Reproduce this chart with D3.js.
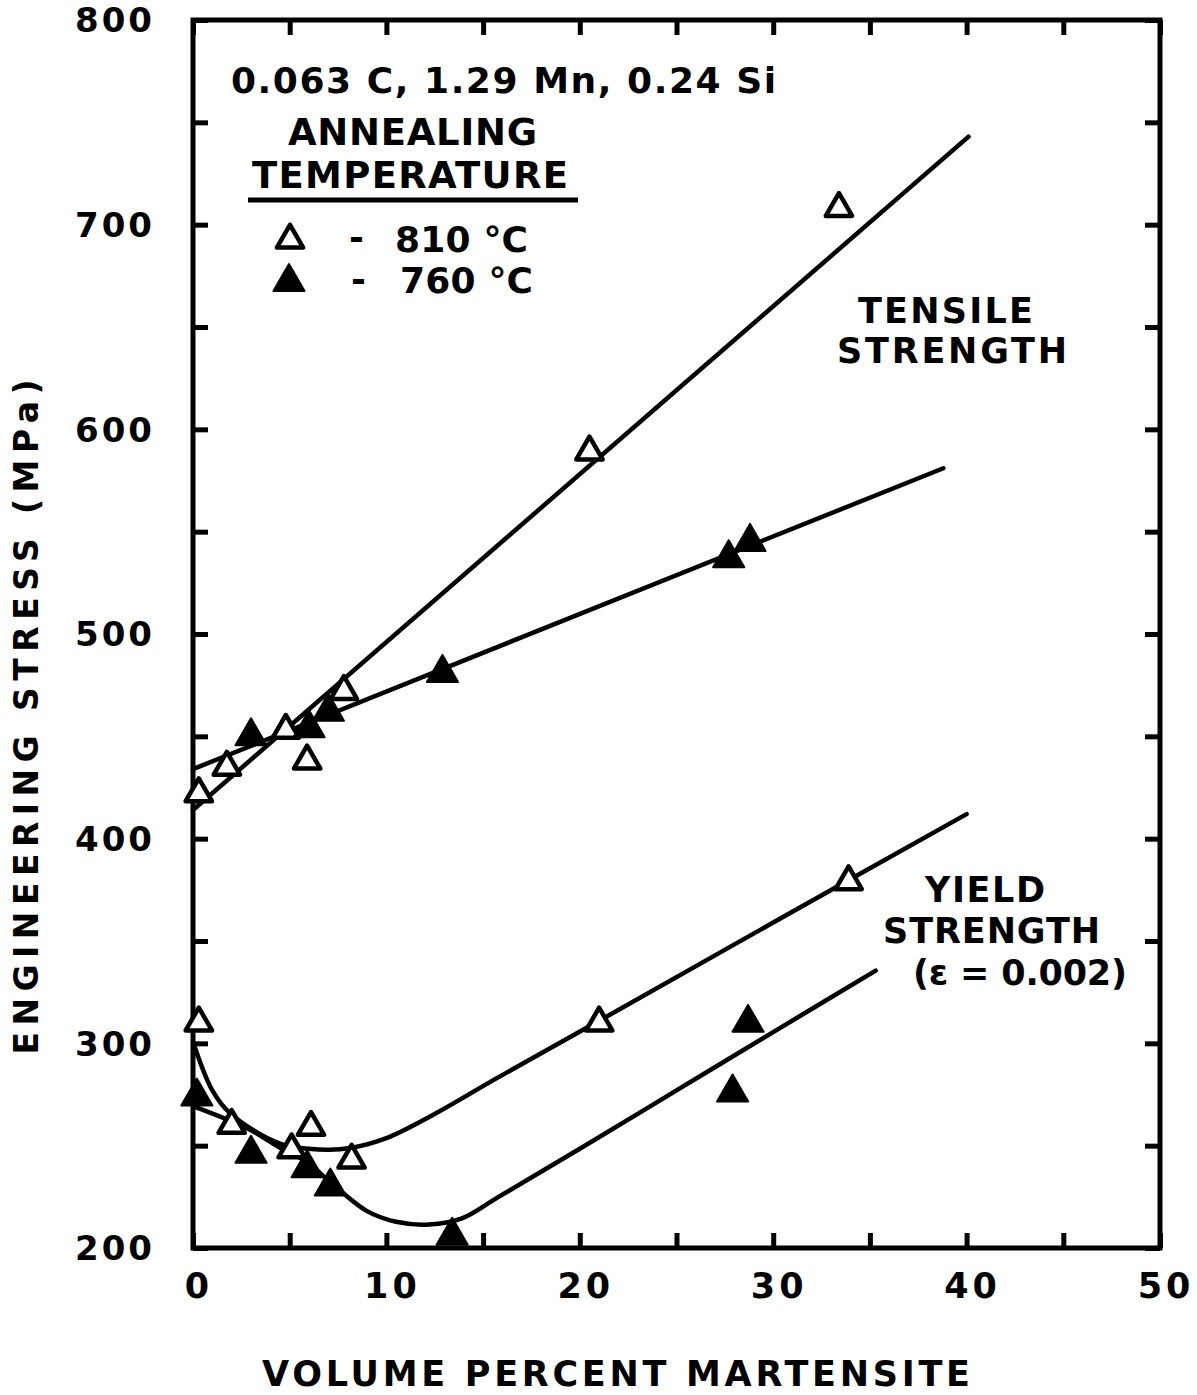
<!DOCTYPE html>
<html>
<head>
<meta charset="utf-8">
<script src="https://cdn.jsdelivr.net/npm/d3@7"></script>
<style>
  html, body { margin: 0; padding: 0; background: #fff; }
  svg { display: block; }
  text { font-family: "DejaVu Sans", sans-serif; font-weight: bold; fill: #000; }
</style>
</head>
<body>
<svg id="chart" width="1197" height="1395"></svg>
<script>
// ---------- data ----------
const xTicks = [0, 5, 10, 15, 20, 25, 30, 35, 40, 45, 50];
const xTickLabels = [0, 10, 20, 30, 40, 50];
const yTicks = [200, 250, 300, 350, 400, 450, 500, 550, 600, 650, 700, 750, 800];
const yTickLabels = [200, 300, 400, 500, 600, 700, 800];

// Tensile strength points [vol% martensite, MPa]
const tensile810 = [[0.3, 422], [1.75, 435], [4.8, 453], [5.9, 438], [7.8, 472], [20.5, 589], [33.4, 708]];
const tensile760 = [[3.0, 450], [6.0, 454], [7.0, 462], [12.9, 481], [27.7, 537], [28.8, 545]];
// Yield strength points
const yield810 = [[0.3, 310], [2.0, 260], [5.1, 248], [6.1, 259], [8.2, 243], [21.0, 310], [33.9, 379]];
const yield760 = [[0.2, 274], [3.0, 246], [5.9, 239], [7.1, 230], [13.4, 206], [27.9, 276], [28.7, 310]];

// Fitted curves
const tensile810Fit = [[0, 414], [40.1, 743]];
const tensile760Fit = [[0, 434], [38.8, 581]];
const yield810Fit = [[0.1, 298], [1, 277], [1.9, 266], [4.5, 251], [6.9, 248], [8.2, 249], [10, 253.7], [12.4, 265], [15.8, 283.5], [21, 311], [30, 359], [40, 412]];
const yield760Fit = [[0.1, 269], [2.8, 258.5], [4.5, 249], [5.9, 242], [7, 233], [9, 218], [10.5, 212.8], [12.2, 211.5], [13.9, 214.5], [15.8, 225], [20, 248.5], [25, 277], [30, 305.5], [35.3, 335.5]];

// ---------- drawing ----------
const svg = d3.select("#chart");
const x = d3.scaleLinear().domain([0, 50]).range([193, 1160]);
const y = d3.scaleLinear().domain([200, 800]).range([1248, 20]);

const ink = "#000";
const tickLen = 15;

// frame
svg.append("rect")
  .attr("x", x(0)).attr("y", y(800))
  .attr("width", x(50) - x(0)).attr("height", y(200) - y(800))
  .attr("fill", "none").attr("stroke", ink).attr("stroke-width", 5);

// inward ticks using d3 axes
const axB = d3.axisBottom(x).tickValues(xTicks).tickSize(-tickLen).tickFormat("");
const axT = d3.axisTop(x).tickValues(xTicks).tickSize(-tickLen).tickFormat("");
const axL = d3.axisLeft(y).tickValues(yTicks).tickSize(-tickLen).tickFormat("");
const axR = d3.axisRight(y).tickValues(yTicks).tickSize(-tickLen).tickFormat("");
function styleAxis(g) {
  g.select(".domain").remove();
  g.selectAll(".tick line").attr("stroke", ink).attr("stroke-width", 5);
}
svg.append("g").attr("transform", `translate(0,${y(200)})`).call(axB).call(styleAxis);
svg.append("g").attr("transform", `translate(0,${y(800)})`).call(axT).call(styleAxis);
svg.append("g").attr("transform", `translate(${x(0)},0)`).call(axL).call(styleAxis);
svg.append("g").attr("transform", `translate(${x(50)},0)`).call(axR).call(styleAxis);

// tick labels
svg.append("g").selectAll("text").data(yTickLabels).join("text")
  .attr("x", 155).attr("y", d => y(d))
  .attr("dy", "0.36em")
  .attr("text-anchor", "end")
  .attr("font-size", 34)
  .attr("letter-spacing", 3)
  .text(d => d);

svg.append("g").selectAll("text").data(xTickLabels).join("text")
  .attr("x", d => x(d) + 6).attr("y", 1298)
  .attr("text-anchor", "middle")
  .attr("font-size", 35)
  .attr("letter-spacing", 4)
  .text(d => d);

// axis titles
svg.append("text")
  .attr("x", 616).attr("y", 1386)
  .attr("text-anchor", "middle")
  .attr("font-size", 35)
  .attr("textLength", 708).attr("lengthAdjust", "spacing")
  .text("VOLUME PERCENT MARTENSITE");

svg.append("text")
  .attr("transform", "translate(38,717) rotate(-90)")
  .attr("text-anchor", "middle")
  .attr("font-size", 33)
  .attr("textLength", 675).attr("lengthAdjust", "spacing")
  .text("ENGINEERING STRESS (MPa)");

// fitted lines
const line = d3.line().x(d => x(d[0])).y(d => y(d[1]));
const smooth = d3.line().x(d => x(d[0])).y(d => y(d[1])).curve(d3.curveCatmullRom.alpha(0.5));
[[tensile810Fit, line], [tensile760Fit, line], [yield810Fit, smooth], [yield760Fit, smooth]].forEach(([d, gen]) => {
  svg.append("path").attr("d", gen(d))
    .attr("fill", "none").attr("stroke", ink).attr("stroke-width", 4.5)
    .attr("stroke-linecap", "round").attr("stroke-linejoin", "round");
});

// markers
const openTri = d3.symbol().type(d3.symbolTriangle).size(300);
const fillTri = d3.symbol().type(d3.symbolTriangle).size(420);
function openMarkers(data) {
  svg.append("g").selectAll("path").data(data).join("path")
    .attr("transform", d => `translate(${x(d[0])},${y(d[1])})`)
    .attr("d", openTri())
    .attr("fill", "#fff").attr("stroke", ink).attr("stroke-width", 4.5)
    .attr("stroke-linejoin", "round");
}
function filledMarkers(data) {
  svg.append("g").selectAll("path").data(data).join("path")
    .attr("transform", d => `translate(${x(d[0])},${y(d[1])})`)
    .attr("d", fillTri())
    .attr("fill", ink).attr("stroke", ink).attr("stroke-width", 2)
    .attr("stroke-linejoin", "round");
}
openMarkers(tensile810);
openMarkers(yield810);
filledMarkers(tensile760);
filledMarkers(yield760);

// annotations
function label(txt, xx, yy, size, len, anchor) {
  const t = svg.append("text").attr("x", xx).attr("y", yy)
    .attr("font-size", size).attr("text-anchor", anchor || "start").text(txt);
  if (len) t.attr("textLength", len).attr("lengthAdjust", "spacing");
  return t;
}
label("0.063 C, 1.29 Mn, 0.24 Si", 231, 93, 36, 545);
label("ANNEALING", 288, 145, 37, 249);
label("TEMPERATURE", 252, 188, 37, 316);
svg.append("line").attr("x1", 248).attr("x2", 578).attr("y1", 200).attr("y2", 200)
  .attr("stroke", ink).attr("stroke-width", 5);

// legend rows
svg.append("path").attr("transform", "translate(290,240)").attr("d", openTri())
  .attr("fill", "#fff").attr("stroke", ink).attr("stroke-width", 4.5).attr("stroke-linejoin", "round");
svg.append("path").attr("transform", "translate(289,282)").attr("d", fillTri())
  .attr("fill", ink).attr("stroke", ink).attr("stroke-width", 2).attr("stroke-linejoin", "round");
label("-", 349, 250, 36);
label("810 °C", 395, 252, 36, 133);
label("-", 351, 292, 36);
label("760 °C", 400, 293, 36, 133);

label("TENSILE", 858, 323, 35, 175);
label("STRENGTH", 837, 363, 35, 230);
label("YIELD", 925, 902, 35, 120);
label("STRENGTH", 883, 943, 35, 217);
label("(\u03B5 = 0.002)", 913, 985, 35, 214);
</script>
</body>
</html>
